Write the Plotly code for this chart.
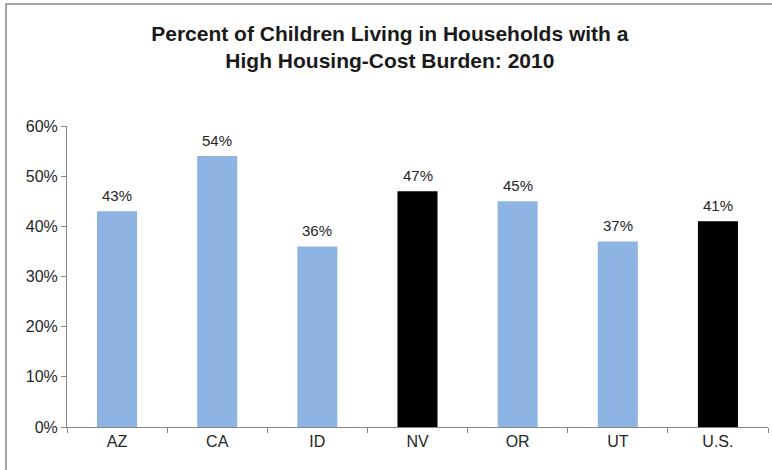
import plotly.graph_objects as go

categories = ["AZ", "CA", "ID", "NV", "OR", "UT", "U.S."]
values = [0.43, 0.54, 0.36, 0.47, 0.45, 0.37, 0.41]
bar_colors = ["#8EB4E3", "#8EB4E3", "#8EB4E3", "#000000", "#8EB4E3", "#8EB4E3", "#000000"]
labels = [f"{round(v*100)}%" for v in values]

fig = go.Figure(go.Bar(
    x=categories, y=values, marker=dict(color=bar_colors, line=dict(width=0)),
))

for c, v, t in zip(categories, values, labels):
    fig.add_annotation(x=c, y=v, text=t, showarrow=False, yshift=16, yanchor="middle",
                       font=dict(family="Liberation Sans", size=15, color="#262626"))

fig.update_layout(
    width=772, height=470,
    margin=dict(l=67, r=4, t=126, b=43),
    plot_bgcolor="white", paper_bgcolor="white",
    bargap=0.6, showlegend=False,
    title=dict(text="<b>Percent of Children Living in Households with a<br>High Housing-Cost Burden: 2010</b>",
               x=0.505, xanchor="center", y=0.913, yanchor="top",
               font=dict(family="Liberation Sans", size=21, color="#1a1a1a")),
    font=dict(family="Liberation Sans", size=15, color="#262626"),
    shapes=[dict(type="rect", xref="paper", yref="paper", x0=-0.087, x1=1.2, y0=-0.5, y1=1.405,
                 line=dict(color="#868686", width=1.5), fillcolor="rgba(0,0,0,0)", layer="below")],
)
fig.update_yaxes(range=[0, 0.6], tickvals=[0, 0.1, 0.2, 0.3, 0.4, 0.5, 0.6], tickformat=".0%",
                 showgrid=False, showline=True, linecolor="#868686", linewidth=1,
                 ticks="outside", ticklen=5, tickcolor="#868686", zeroline=False,
                 tickfont=dict(size=16))
fig.update_xaxes(showgrid=False, showline=True, linecolor="#868686", linewidth=1,
                 ticks="outside", ticklen=5, tickcolor="#868686", tickson="boundaries",
                 tickfont=dict(size=16))

fig.write_html("out.html", config={"displayModeBar": False},
               post_script="document.body.style.margin='0';")
